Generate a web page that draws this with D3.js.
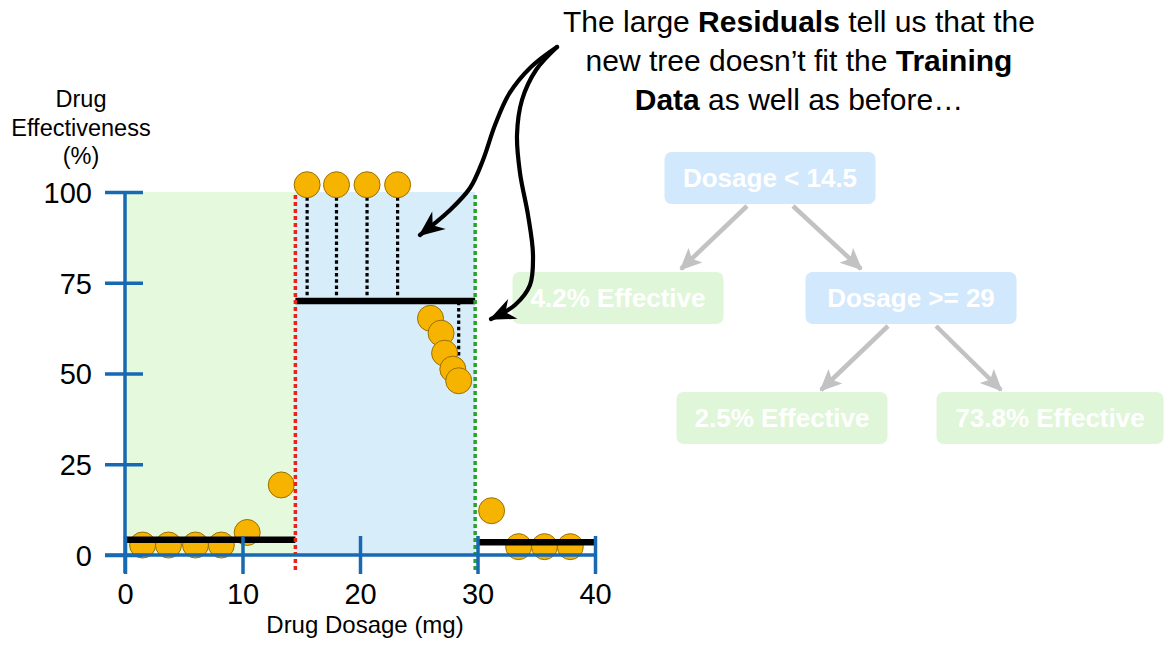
<!DOCTYPE html>
<html>
<head>
<meta charset="utf-8">
<script src="https://cdn.jsdelivr.net/npm/d3@7"></script>
<style>
  html, body { margin: 0; padding: 0; background: #ffffff; }
  svg { display: block; }
  text { font-family: "Liberation Sans", Arial, Helvetica, sans-serif; }
</style>
</head>
<body>
<script>
// ---------------- DATA ----------------
const dosage        = [1.5, 3.7, 6.0, 8.2, 10.4, 13.3, 15.5, 18.0, 20.6, 23.2, 26.0, 26.9, 27.2, 27.9, 28.4, 31.2, 33.5, 35.7, 37.9];
const effectiveness = [2.75, 2.75, 2.75, 2.75, 6.2, 19.3, 102, 102, 102, 102, 65.2, 61.1, 55.6, 51.2, 48.0, 12.2, 2.3, 2.3, 2.3];
// indices of points whose residual (dotted line) is drawn in the picture
const residualShown = [6, 7, 8, 9, 14];

const xTicks = [0, 10, 20, 30, 40];
const yTicks = [0, 25, 50, 75, 100];

const regionStart = [0, 14.5];
const regionEnd   = [14.5, 29.8];

const predStart = [0, 14.5, 30];
const predEnd   = [14.5, 29.8, 40];
const predValue = [4.2, 70, 3.5];

const splitValues = [14.5, 29.8];

const yTitleLines = ["Drug", "Effectiveness", "(%)"];
const xTitle = "Drug Dosage (mg)";

const treeLabels = ["Dosage < 14.5", "4.2% Effective", "Dosage >= 29", "2.5% Effective", "73.8% Effective"];
const treeKinds  = ["split", "leaf", "split", "leaf", "leaf"];
const treeEdgesFrom = [0, 0, 2, 2];
const treeEdgesTo   = [1, 2, 3, 4];

// ---------------- LAYOUT ----------------
const W = 1173, H = 654;
const svg = d3.select("body").append("svg").attr("width", W).attr("height", H);

const x = d3.scaleLinear().domain([0, 40]).range([125, 595]);
const y = d3.scaleLinear().domain([0, 100]).range([555, 192]);

const regionColors = ["#e5f9dc", "#d7eefa"];
const splitColors = ["#e8221c", "#27a32a"];
const axisColor = "#1769b3";
const font = "'Liberation Sans', Arial, Helvetica, sans-serif";

// defs: arrowheads
const defs = svg.append("defs");
defs.append("marker").attr("id", "blackHead")
  .attr("markerUnits", "userSpaceOnUse")
  .attr("viewBox", "-26 -13 30 26").attr("refX", 0).attr("refY", 0)
  .attr("markerWidth", 30).attr("markerHeight", 26).attr("orient", "auto")
  .append("path").attr("d", "M2,0 L-24,-11 L-16,0 L-24,11 Z").attr("fill", "#000");
defs.append("marker").attr("id", "grayHead")
  .attr("markerUnits", "userSpaceOnUse")
  .attr("viewBox", "-24 -12 28 24").attr("refX", 0).attr("refY", 0)
  .attr("markerWidth", 28).attr("markerHeight", 24).attr("orient", "auto")
  .append("path").attr("d", "M2,0 L-20,-10 L-15,0 L-20,10 Z").attr("fill", "#c2c2c2");

// regions
svg.append("g").selectAll("rect").data(regionStart).join("rect")
  .attr("x", (d) => x(d))
  .attr("y", y(100))
  .attr("width", (d, i) => x(regionEnd[i]) - x(d))
  .attr("height", y(0) - y(100))
  .attr("fill", (d, i) => regionColors[i]);

// points
const pts = dosage.map((d, i) => ({ x: d, y: effectiveness[i] }));
function predAt(v) {
  for (let i = 0; i < predStart.length; i++) if (v >= predStart[i] && v <= predEnd[i]) return predValue[i];
  return null;
}
// residuals
const resPts = residualShown.map(i => pts[i]);
svg.append("g").selectAll("line").data(resPts).join("line")
  .attr("x1", d => x(d.x)).attr("x2", d => x(d.x))
  .attr("y1", d => y(d.y)).attr("y2", d => y(predAt(d.x)))
  .attr("stroke", "#000").attr("stroke-width", 3.2).attr("stroke-dasharray", "3.5,2.8");

svg.append("g").selectAll("circle").data(pts).join("circle")
  .attr("cx", d => x(d.x)).attr("cy", d => y(d.y)).attr("r", 13)
  .attr("fill", "#f6b300").attr("stroke", "#9a7000").attr("stroke-width", 1);

// prediction segments
svg.append("g").selectAll("line").data(predStart).join("line")
  .attr("x1", d => x(d)).attr("x2", (d, i) => x(predEnd[i]))
  .attr("y1", (d, i) => y(predValue[i])).attr("y2", (d, i) => y(predValue[i]))
  .attr("stroke", "#000").attr("stroke-width", 6.5);

// split lines
svg.append("g").selectAll("line").data(splitValues).join("line")
  .attr("x1", d => x(d)).attr("x2", d => x(d))
  .attr("y1", y(100) + 3).attr("y2", y(0) + 18)
  .attr("stroke", (d, i) => splitColors[i]).attr("stroke-width", 3.5)
  .attr("stroke-dasharray", "4,3");

// axes
const yAxis = d3.axisLeft(y).tickValues(yTicks).tickSize(0).tickFormat(d3.format("d"));
const gy = svg.append("g").attr("transform", `translate(${x(0)},0)`).call(yAxis);
gy.select(".domain").remove();
gy.selectAll(".tick line").attr("x1", -20).attr("x2", 18).attr("stroke", axisColor).attr("stroke-width", 3.5);
gy.selectAll(".tick text").attr("x", -33).attr("dy", "0.36em")
  .attr("font-size", 29).attr("font-family", font).attr("fill", "#000");
gy.append("line").attr("x1", 0).attr("x2", 0).attr("y1", y(100)).attr("y2", y(0) + 18)
  .attr("stroke", axisColor).attr("stroke-width", 3.5);

const xAxis = d3.axisBottom(x).tickValues(xTicks).tickSize(0).tickFormat(d3.format("d"));
const gx = svg.append("g").attr("transform", `translate(0,${y(0)})`).call(xAxis);
gx.select(".domain").remove();
gx.selectAll(".tick line").attr("y1", -19).attr("y2", 19).attr("stroke", axisColor).attr("stroke-width", 3.5);
gx.selectAll(".tick text").attr("y", 49).attr("dy", 0)
  .attr("font-size", 29).attr("font-family", font).attr("fill", "#000");
gx.append("line").attr("x1", x(0) - 20).attr("x2", x(40)).attr("y1", 0).attr("y2", 0)
  .attr("stroke", axisColor).attr("stroke-width", 3.5);

// axis titles
svg.append("text").attr("x", 81).attr("y", 107).attr("text-anchor", "middle")
  .attr("font-size", 23.5).attr("fill", "#000")
  .selectAll("tspan").data(yTitleLines).join("tspan")
  .attr("x", 81).attr("dy", (d, i) => i === 0 ? 0 : 28.5).text(d => d);
svg.append("text").attr("x", 365).attr("y", 633).attr("text-anchor", "middle")
  .attr("font-size", 24).attr("fill", "#000").text(xTitle);

// ---------------- TREE (faded) ----------------
const nodeCx = [770, 618, 911, 782, 1050];
const nodeCy = [178, 298, 298, 418, 418];
const nodeW  = [211, 211, 211, 211, 227];
const nodeH = 52;
const edgeStart = [[747, 206], [793, 206], [888, 326], [936, 326]];
const edgeEnd   = [[681, 269], [861, 269], [821, 390], [1001, 390]];

svg.append("g").selectAll("line").data(treeEdgesFrom).join("line")
  .attr("x1", (d, i) => edgeStart[i][0]).attr("y1", (d, i) => edgeStart[i][1])
  .attr("x2", (d, i) => edgeEnd[i][0]).attr("y2", (d, i) => edgeEnd[i][1])
  .attr("stroke", "#c2c2c2").attr("stroke-width", 4.5).attr("marker-end", "url(#grayHead)");

const nodes = svg.append("g").selectAll("g").data(treeLabels).join("g");
nodes.append("rect")
  .attr("x", (d, i) => nodeCx[i] - nodeW[i] / 2).attr("y", (d, i) => nodeCy[i] - nodeH / 2)
  .attr("width", (d, i) => nodeW[i]).attr("height", nodeH).attr("rx", 7)
  .attr("fill", (d, i) => treeKinds[i] === "split" ? "#d2e8fc" : "#dff6d9");
nodes.append("text")
  .attr("x", (d, i) => nodeCx[i]).attr("y", (d, i) => nodeCy[i]).attr("dy", "0.35em")
  .attr("text-anchor", "middle").attr("font-size", 26).attr("font-weight", "bold")
  .attr("fill", "#ffffff").text(d => d);

// ---------------- ANNOTATION ----------------
const ann = svg.append("g").attr("font-size", 30).attr("fill", "#000");
const annLines = [
  [["The large ", false], ["Residuals", true], [" tell us that the", false]],
  [["new tree doesn\u2019t fit the ", false], ["Training", true]],
  [["Data", true], [" as well as before\u2026", false]]
];
annLines.forEach((parts, li) => {
  const t = ann.append("text").attr("x", 799).attr("y", 32 + li * 39).attr("text-anchor", "middle");
  parts.forEach(p => t.append("tspan").attr("font-weight", p[1] ? "bold" : "normal").text(p[0]));
});

const arrowA = [[557, 47], [531, 67], [509, 94], [495, 125], [483, 160], [470, 188], [449, 211], [420, 235]];
const arrowB = [[557, 47], [536, 70], [522, 100], [517, 135], [520, 173], [528, 215], [533, 255], [530, 285], [515, 305], [491, 319]];
const curve = d3.line().curve(d3.curveCatmullRom.alpha(0.5));
[arrowA, arrowB].forEach(a => {
  svg.append("path").attr("d", curve(a)).attr("fill", "none")
    .attr("stroke", "#000").attr("stroke-width", 4.2).attr("stroke-linecap", "round")
    .attr("marker-end", "url(#blackHead)");
});
</script>
</body>
</html>
